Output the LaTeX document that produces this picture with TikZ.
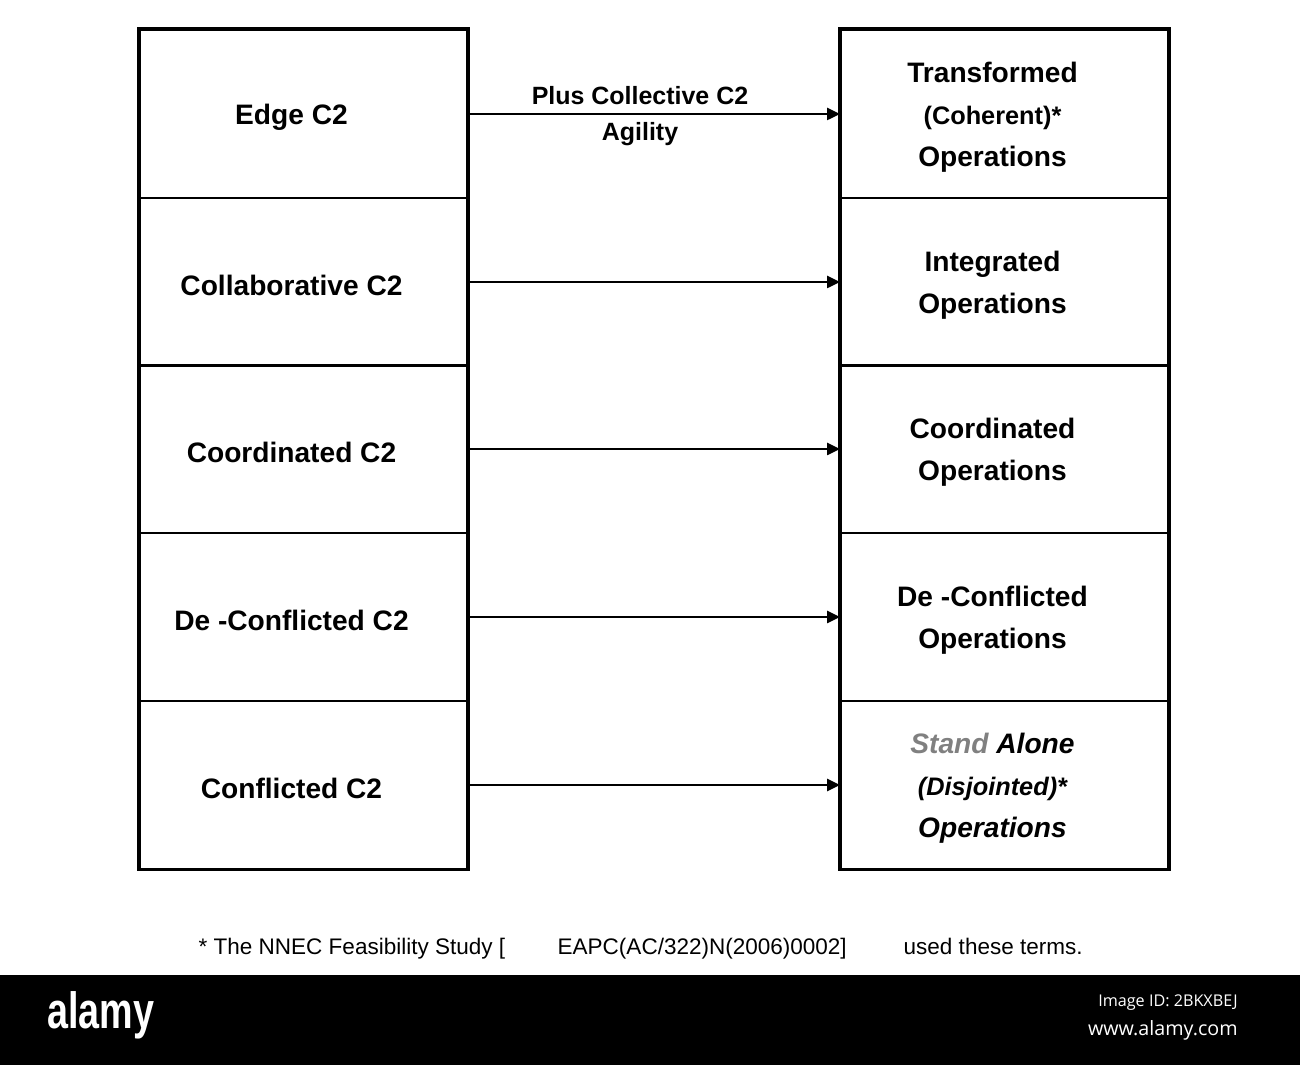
\documentclass[tikz,border=0pt]{standalone}
\usepackage{fontspec}
\setmainfont{Liberation Sans}
\newfontfamily\wmfont{Open Sans}
\usepackage{graphicx}
\usetikzlibrary{arrows.meta, positioning, calc}

\begin{document}
\begin{tikzpicture}[x=0.01cm,y=-0.01cm,
    cell/.style={draw=black, line width=0.5pt, minimum width=3.27cm, minimum height=1.676cm, inner sep=0pt},
    lbl/.style={font=\bfseries\fontsize{8}{12}\selectfont, align=center, xshift=-0.12cm, yshift=-0.03cm},
    lcell/.style={cell, label={[lbl]center:#1}},
    link/.style={line width=0.7pt, -{Triangle[length=0.13cm, width=0.12cm]}},
    note/.style={font=\fontsize{6.4}{8}\selectfont, anchor=base west, inner sep=0pt}]

    \useasboundingbox (0,0) rectangle (1300,1065);

    % left column
    \node[lcell={Edge C2}]           (edge)   at (303.5,114) {};
    \node[lcell={Collaborative C2}]  (collab) at (303.5,282) {};
    \node[lcell={Coordinated C2}]    (coord)  at (303.5,449) {};
    \node[lcell={De -Conflicted C2}] (decon)  at (303.5,617) {};
    \node[lcell={Conflicted C2}]     (confl)  at (303.5,785) {};
    \draw[line width=1pt] (edge.north west) rectangle (confl.south east);

    % right column
    \node[lcell={Transformed\\{\fontsize{7.2}{12}\selectfont (Coherent)*}\\Operations}] (transf) at (1004.5,114) {};
    \node[lcell={Integrated\\Operations}]      (integ)  at (1004.5,282) {};
    \node[lcell={Coordinated\\Operations}]     (coordop) at (1004.5,449) {};
    \node[lcell={De -Conflicted\\Operations}]  (deconop) at (1004.5,617) {};
    \node[lcell={\itshape{\color{gray}Stand} Alone\\{\fontsize{7.2}{12}\selectfont\itshape (Disjointed)*}\\\itshape Operations}] (alone) at (1004.5,785) {};
    \draw[line width=1pt] (transf.north west) rectangle (alone.south east);

    % arrows
    \draw[link] (edge) -- (transf) node[midway, xshift=-0.14cm, yshift=-0.02cm, align=center, font=\bfseries\fontsize{7.1}{10.2}\selectfont] (agil) {Plus Collective C2\\Agility};
    \draw[link] (collab) -- (integ);
    \draw[link] (coord) -- (coordop);
    \draw[link] (decon) -- (deconop);
    \draw[link] (confl) -- (alone);

    % footnote
    \node[note] (fn1) at (198,955) {* The NNEC Feasibility Study [};
    \node[note] (fn2) at (557,955) {EAPC(AC/322)N(2006)0002]};
    \node[note] (fn3) at (903,955) {used these terms.};

    % bottom band
    \fill[black] (0,975) rectangle (1300,1065);
    \node[text=white, font=\bfseries\fontsize{14.5}{16}\selectfont] (logo) at (101,1015) {\scalebox{0.74}[1]{alamy}};
    \node[text=white, anchor=east, font=\wmfont\fontsize{4.6}{6}\selectfont] (imgid) at (1250,1003) {Image ID: 2BKXBEJ};
    \node[text=white, anchor=east, font=\wmfont\fontsize{5.6}{7}\selectfont] (www) at (1250,1030) {www.alamy.com};
\end{tikzpicture}
\end{document}
